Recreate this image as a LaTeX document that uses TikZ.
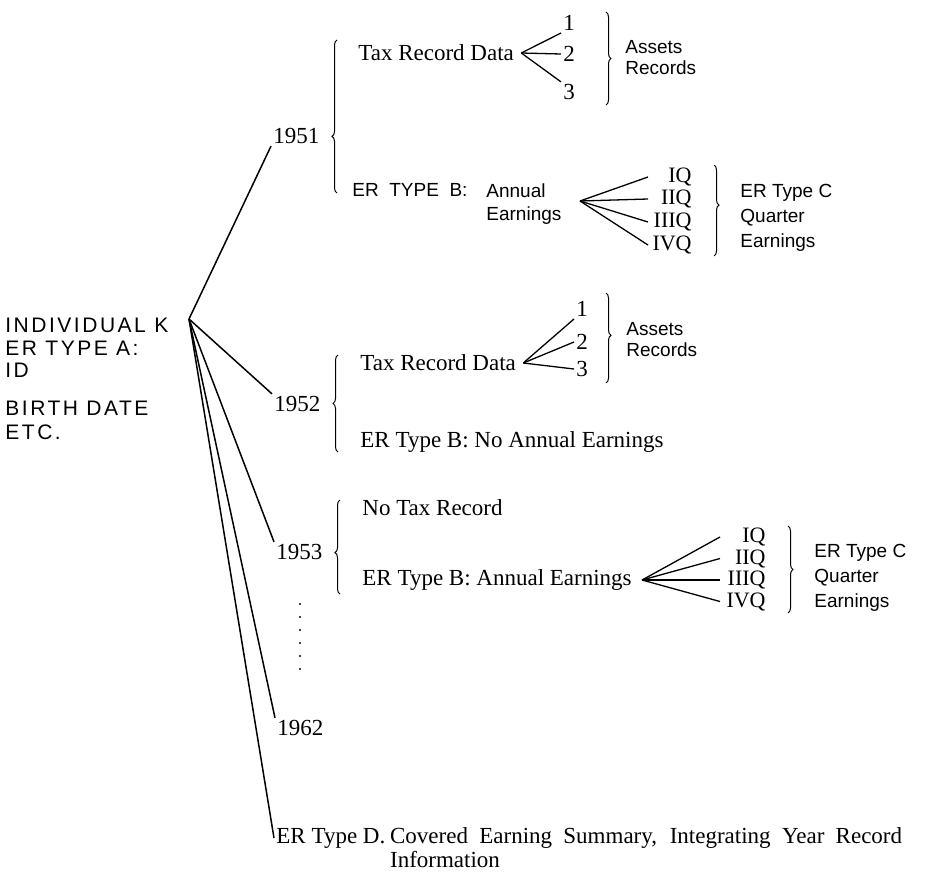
\documentclass[tikz,border=0pt]{standalone}
\usepackage{fontspec}
\setmainfont{Liberation Serif}
\newfontfamily\sansf{Liberation Sans}
\newfontfamily\rootf[LetterSpace=12]{Liberation Sans}
\usetikzlibrary{decorations.pathreplacing}
\begin{document}
\begin{tikzpicture}[x=0.5pt,y=-0.5pt,
  txt/.style={inner sep=1pt, font=\fontsize{11.5}{12}\selectfont},
  qtxt/.style={inner sep=0pt, anchor=east, font=\fontsize{11}{12}\selectfont},
  stxt/.style={inner sep=1pt, font=\sansf\fontsize{9.5}{12.5}\selectfont},
  rtxt/.style={inner sep=0pt, anchor=west, font=\rootf\fontsize{10.5}{12}\selectfont},
  ln/.style={line width=0.75pt},
  fan/.style={line width=0.65pt},
  lbrace/.style={decorate, decoration={brace, amplitude=2.5pt, aspect=#1}, line width=0.5pt},
  lbrace/.default=0.5]
\useasboundingbox (0,0) rectangle (925,878);

% root
\node[rtxt] (rootA) at (5,325) {INDIVIDUAL K};
\node[rtxt] (rootB) at (5,348) {ER TYPE A:};
\node[rtxt] (rootC) at (5,370) {ID};
\node[rtxt] (rootD) at (5,408) {BIRTH DATE};
\node[rtxt] (rootE) at (5,432) {ETC.};
\coordinate (R) at (189,319);

% years
\node[txt, anchor=west] (y51) at (271,136) {1951};
\node[txt, anchor=west] (y52) at (272,404) {1952};
\node[txt, anchor=west] (y53) at (274,552) {1953};
\node[txt, anchor=west] (y62) at (275,728) {1962};
\node[txt, anchor=west] (D) at (274,838) {ER Type D.};
\node[txt, anchor=north west, align=left, font=\fontsize{11.5}{12}\selectfont] (Dtext) at (D.north east)
  {\makebox[256pt][s]{Covered Earning Summary, Integrating Year Record}\\Information};

\draw[ln] (R) -- (y51.south west);
\draw[ln] (R) -- (y52.north west);
\draw[ln] (R) -- (y53.north west);
\draw[ln] (R) -- (y62.north west);
\draw[ln] (R) -- (D.west);

% dots
\foreach \k in {0,...,5} \fill (300,604+13*\k) circle (1.2);

% ---- 1951 group
\draw[lbrace=0.37] (337,193) -- (337,40);
\node[txt, anchor=west] (t51) at (356,53) {Tax Record Data};
\coordinate (f51) at ([xshift=2.5pt]t51.east);
\node[txt, anchor=west] (a1) at (561,23) {1};
\node[txt, anchor=west] (a2) at (561,54) {2};
\node[txt, anchor=west] (a3) at (561,92) {3};
\draw[fan] (f51) -- (a1.south west);
\draw[fan] (f51) -- (a2.west);
\draw[fan] (f51) -- (a3.north west);
\draw[lbrace=0.5] (606,12) -- (606,105);
\node[stxt, anchor=west, align=left, font=\sansf\fontsize{9.5}{10.5}\selectfont] (ar51) at (623,58) {Assets\\Records};

\node[stxt, anchor=west] (b51) at (350,190) {ER\ \ TYPE\ \ B:};
\node[stxt, anchor=north west, align=left, font=\sansf\fontsize{9.5}{11.5}\selectfont] (b51b) at (484,181) {Annual\\Earnings};
\coordinate (g51) at (580,201);
\coordinate (e51) at (648,0);
\node[qtxt] (q51a) at (692,177) {IQ};
\node[qtxt] (q51b) at (692,199) {IIQ};
\node[qtxt] (q51c) at (692,222) {IIIQ};
\node[qtxt] (q51d) at (692,245) {IVQ};
\draw[fan] (g51) -- (q51a.west -| e51);
\draw[fan] (g51) -- (q51b.west -| e51);
\draw[fan] (g51) -- (q51c.west -| e51);
\draw[fan] (g51) -- (q51d.west -| e51);
\draw[lbrace=0.44] (714,165) -- (714,256);
\node[stxt, anchor=west, align=left] (c51) at (738,218) {ER Type C\\Quarter\\Earnings};

% ---- 1952 group
\draw[lbrace=0.5] (338,452) -- (338,355);
\node[txt, anchor=west] (t52) at (358,363) {Tax Record Data};
\coordinate (f52) at ([xshift=2.5pt]t52.east);
\node[txt, anchor=west] (b1) at (574,309) {1};
\node[txt, anchor=west] (b2) at (574,342) {2};
\node[txt, anchor=west] (b3) at (574,369) {3};
\draw[fan] (f52) -- (b1.south west);
\draw[fan] (f52) -- (b2.west);
\draw[fan] (f52) -- (b3.west);
\draw[lbrace=0.47] (606,293) -- (606,383);
\node[stxt, anchor=west, align=left, font=\sansf\fontsize{9.5}{10.5}\selectfont] (ar52) at (624,340) {Assets\\Records};
\node[txt, anchor=west] (n52) at (358,442) {ER Type B: No Annual Earnings};

% ---- 1953 group
\draw[lbrace=0.44] (340,594) -- (340,500);
\node[txt, anchor=west] (nt53) at (360,508) {No Tax Record};
\node[txt, anchor=west] (e53) at (360,580) {ER Type B: Annual Earnings};
\coordinate (f53) at ([xshift=4pt]e53.east);
\coordinate (e53x) at (720,0);
\node[qtxt] (q53a) at (766,537) {IQ};
\node[qtxt] (q53b) at (766,558.5) {IIQ};
\node[qtxt] (q53c) at (766,580) {IIIQ};
\node[qtxt] (q53d) at (766,601.5) {IVQ};
\draw[fan] (f53) -- (q53a.west -| e53x);
\draw[fan] (f53) -- (q53b.west -| e53x);
\draw[fan] (f53) -- (q53c.west -| e53x);
\draw[fan] (f53) -- (q53d.west -| e53x);
\draw[lbrace=0.5] (788,526) -- (788,613);
\node[stxt, anchor=west, align=left] (c53) at (812,578) {ER Type C\\Quarter\\Earnings};
\end{tikzpicture}
\end{document}
